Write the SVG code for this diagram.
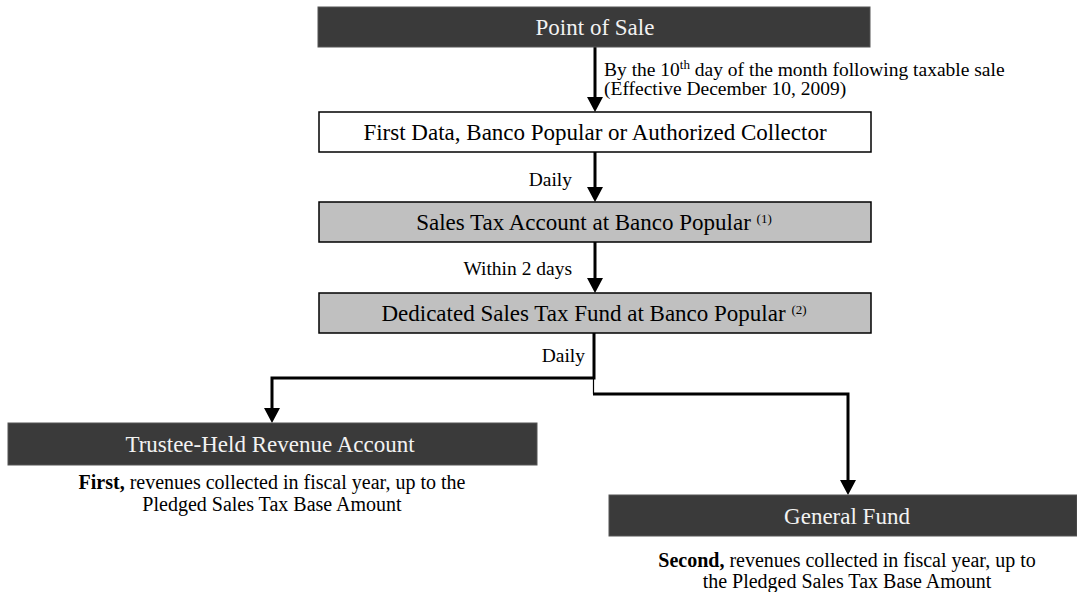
<svg xmlns="http://www.w3.org/2000/svg" width="1077" height="592" viewBox="0 0 1077 592">
<defs>
<style>
text{font-family:"Liberation Serif","Times New Roman",serif;fill:#000}
.dark{fill:#3a3a3a;stroke:#555;stroke-width:1}
.white{fill:#fff;stroke:#000;stroke-width:1.5}
.gray{fill:#c0c0c0;stroke:#000;stroke-width:1.5}
.title{font-size:23px;text-anchor:middle}
.light{fill:#f2f2f2}
.lbl{font-size:19.5px}
.note{font-size:20px;text-anchor:middle}
.sup{font-size:13px}
.wire{fill:none;stroke:#000;stroke-width:3}
.thin{fill:none;stroke:#000;stroke-width:1.2}
</style>
</defs>
<rect width="1077" height="592" fill="#fff"/>
<g id="connectors">
<line class="wire" x1="595" y1="47" x2="595" y2="97"/>
<polygon points="587,97 603,97 595,112" fill="#000"/>
<line class="wire" x1="595" y1="152" x2="595" y2="187"/>
<polygon points="587,187 603,187 595,202" fill="#000"/>
<line class="wire" x1="595" y1="242" x2="595" y2="278"/>
<polygon points="587,278 603,278 595,293" fill="#000"/>
<polyline class="wire" points="594,333 594,378 272,378 272,408"/>
<polygon points="264,408 280,408 272,423" fill="#000"/>
<line class="thin" x1="593.5" y1="378" x2="593.5" y2="394"/>
<polyline class="wire" points="593,394 848,394 848,480"/>
<polygon points="840,480 856,480 848,495" fill="#000"/>
<text class="lbl" x="604" y="76">By the 10<tspan class="sup" dy="-7">th</tspan><tspan dy="7"> day of the month following taxable sale</tspan></text>
<text class="lbl" x="604" y="95">(Effective December 10, 2009)</text>
<text class="lbl" x="572" y="186" text-anchor="end">Daily</text>
<text class="lbl" x="572" y="275" text-anchor="end">Within 2 days</text>
<text class="lbl" x="585" y="362" text-anchor="end">Daily</text>
</g>
<g id="point-of-sale">
<rect class="dark" x="318" y="7" width="552" height="40"/>
<text class="title light" x="595" y="35" font-size="21.8">Point of Sale</text>
</g>
<g id="first-data">
<rect class="white" x="319" y="112" width="552" height="40"/>
<text class="title" x="595" y="140">First Data, Banco Popular or Authorized Collector</text>
</g>
<g id="sales-tax-account">
<rect class="gray" x="319" y="202" width="552" height="40"/>
<text class="title" x="594" y="230">Sales Tax Account at Banco Popular <tspan class="sup" dy="-7">(1)</tspan></text>
</g>
<g id="dedicated-fund">
<rect class="gray" x="319" y="293" width="552" height="40"/>
<text class="title" x="594" y="321">Dedicated Sales Tax Fund at Banco Popular <tspan class="sup" dy="-7">(2)</tspan></text>
</g>
<g id="trustee">
<rect class="dark" x="8" y="423" width="529" height="42"/>
<text class="title light" x="270" y="452" font-size="22.5">Trustee-Held Revenue Account</text>
<text class="note" x="272" y="489"><tspan font-weight="bold">First,</tspan> revenues collected in fiscal year, up to the</text>
<text class="note" x="272" y="511">Pledged Sales Tax Base Amount</text>
</g>
<g id="general-fund">
<rect class="dark" x="609" y="495" width="468" height="41"/>
<text class="title light" x="847" y="524">General Fund</text>
<text class="note" x="847" y="567"><tspan font-weight="bold">Second,</tspan> revenues collected in fiscal year, up to</text>
<text class="note" x="847" y="588">the Pledged Sales Tax Base Amount</text>
</g>
</svg>
